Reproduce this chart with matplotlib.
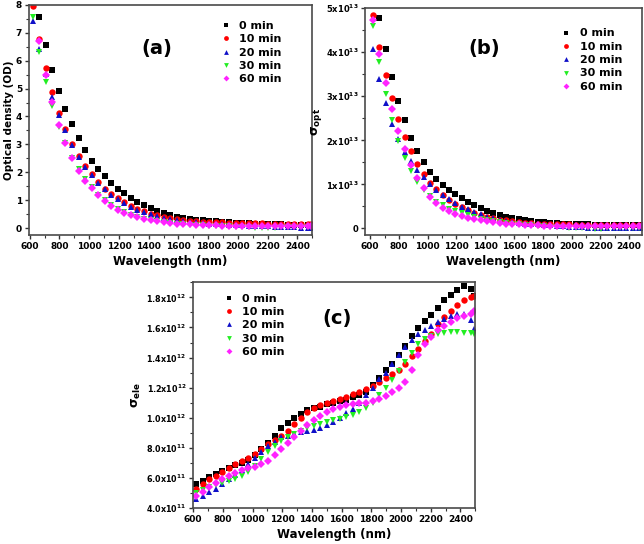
import numpy as np
import matplotlib
matplotlib.use("Agg")
import matplotlib.pyplot as plt
from matplotlib.ticker import FixedLocator, FuncFormatter, AutoMinorLocator

plt.rcParams['font.family'] = ['DejaVu Sans']
plt.rcParams['font.weight'] = 'bold'
plt.rcParams['mathtext.default'] = 'bf'

# wavelength grid (nm)
wavelength = [620, 664, 708, 752, 796, 840, 884, 928, 972, 1016, 1060, 1104, 1148, 1192,
              1236, 1280, 1324, 1368, 1412, 1456, 1500, 1544, 1588, 1632, 1676, 1720, 1764,
              1808, 1852, 1896, 1940, 1984, 2028, 2072, 2116, 2160, 2204, 2248, 2292, 2336,
              2380, 2424, 2468, 2490]

labels = ['0 min', '10 min', '20 min', '30 min', '60 min']
colors = ['black', 'red', '#1010c8', '#22ee22', '#ff22ff']
markers = ['s', 'o', '^', 'v', 'D']

# (a) optical density
od_0 = [8.7, 7.56, 6.57, 5.67, 4.92, 4.28, 3.72, 3.24, 2.80, 2.42, 2.13, 1.86, 1.62, 1.41,
        1.24, 1.07, 0.93, 0.81, 0.71, 0.61, 0.53, 0.46, 0.41, 0.37, 0.33, 0.30, 0.28, 0.26,
        0.24, 0.22, 0.20, 0.19, 0.18, 0.17, 0.16, 0.15, 0.14, 0.13, 0.13, 0.12, 0.12, 0.11,
        0.11, 0.11]
od_10 = [7.95, 6.78, 5.75, 4.88, 4.14, 3.54, 3.00, 2.58, 2.22, 1.92, 1.64, 1.40, 1.22, 1.06,
         0.92, 0.80, 0.69, 0.60, 0.52, 0.46, 0.40, 0.36, 0.32, 0.29, 0.27, 0.25, 0.23, 0.22,
         0.21, 0.20, 0.19, 0.18, 0.18, 0.17, 0.17, 0.17, 0.16, 0.16, 0.16, 0.16, 0.16, 0.15,
         0.15, 0.15]
od_20 = [7.43, 6.41, 5.52, 4.71, 4.04, 3.50, 2.97, 2.56, 2.20, 1.90, 1.62, 1.40, 1.20, 1.03,
         0.89, 0.77, 0.66, 0.57, 0.49, 0.43, 0.37, 0.32, 0.28, 0.25, 0.22, 0.20, 0.18, 0.16,
         0.15, 0.13, 0.12, 0.11, 0.10, 0.09, 0.08, 0.07, 0.06, 0.05, 0.04, 0.03, 0.02, 0.01,
         0.00, -0.01]
od_30 = [7.55, 6.31, 5.25, 4.38, 3.62, 3.05, 2.52, 2.10, 1.77, 1.47, 1.20, 1.00, 0.84, 0.70,
         0.58, 0.48, 0.40, 0.34, 0.29, 0.25, 0.21, 0.18, 0.16, 0.14, 0.12, 0.11, 0.10, 0.09,
         0.08, 0.07, 0.06, 0.05, 0.04, 0.03, 0.01, -0.01, 0.00, 0.01, 0.02, 0.03, 0.03, 0.03,
         0.03, 0.03]
od_60 = [8.4, 6.72, 5.50, 4.52, 3.70, 3.05, 2.50, 2.06, 1.70, 1.42, 1.17, 0.96, 0.80, 0.66,
         0.55, 0.46, 0.39, 0.33, 0.28, 0.24, 0.21, 0.18, 0.16, 0.14, 0.13, 0.12, 0.11, 0.10,
         0.10, 0.09, 0.09, 0.08, 0.08, 0.08, 0.08, 0.07, 0.07, 0.07, 0.07, 0.07, 0.07, 0.07,
         0.07, 0.07]

# (b) optical conductivity, units of 1e13
sopt_0 = [5.5, 4.77, 4.07, 3.44, 2.90, 2.45, 2.06, 1.75, 1.50, 1.29, 1.12, 0.98, 0.87, 0.77,
          0.68, 0.60, 0.53, 0.46, 0.40, 0.35, 0.30, 0.27, 0.24, 0.21, 0.19, 0.17, 0.15, 0.14,
          0.13, 0.12, 0.11, 0.10, 0.10, 0.09, 0.09, 0.08, 0.08, 0.08, 0.07, 0.07, 0.07, 0.07,
          0.07, 0.07]
sopt_10 = [4.85, 4.12, 3.48, 2.95, 2.49, 2.08, 1.75, 1.47, 1.24, 1.04, 0.89, 0.76, 0.65, 0.56,
           0.48, 0.41, 0.36, 0.31, 0.27, 0.23, 0.20, 0.18, 0.16, 0.14, 0.13, 0.12, 0.11, 0.10,
           0.10, 0.09, 0.09, 0.09, 0.08, 0.08, 0.08, 0.08, 0.08, 0.08, 0.08, 0.08, 0.08, 0.08,
           0.08, 0.08]
sopt_20 = [4.07, 3.39, 2.84, 2.38, 2.02, 1.74, 1.52, 1.32, 1.16, 1.01, 0.88, 0.76, 0.66, 0.57,
           0.49, 0.43, 0.37, 0.32, 0.27, 0.23, 0.20, 0.17, 0.15, 0.13, 0.11, 0.10, 0.09, 0.08,
           0.07, 0.06, 0.05, 0.04, 0.04, 0.03, 0.02, 0.02, 0.01, 0.01, 0.00, 0.00, 0.00, 0.00,
           0.00, 0.00]
sopt_30 = [4.60, 3.77, 3.05, 2.47, 1.99, 1.60, 1.30, 1.06, 0.88, 0.73, 0.61, 0.52, 0.45, 0.39,
           0.34, 0.30, 0.26, 0.22, 0.19, 0.16, 0.14, 0.12, 0.10, 0.09, 0.08, 0.07, 0.06, 0.05,
           0.04, 0.04, 0.03, 0.02, 0.02, 0.01, 0.00, -0.01, -0.01, 0.00, 0.01, 0.01, 0.02, 0.02,
           0.02, 0.02]
sopt_60 = [4.72, 3.96, 3.29, 2.72, 2.22, 1.80, 1.45, 1.15, 0.91, 0.72, 0.58, 0.47, 0.39, 0.33,
           0.28, 0.24, 0.21, 0.18, 0.16, 0.14, 0.12, 0.11, 0.10, 0.09, 0.08, 0.07, 0.07, 0.06,
           0.06, 0.06, 0.05, 0.05, 0.05, 0.05, 0.05, 0.05, 0.05, 0.05, 0.05, 0.05, 0.05, 0.05,
           0.05, 0.05]

# (c) electrical conductivity, units of 1e12
sele_0 = [0.56, 0.58, 0.605, 0.625, 0.645, 0.665, 0.685, 0.70, 0.72, 0.75, 0.79, 0.835, 0.88,
          0.93, 0.965, 1.0, 1.025, 1.05, 1.065, 1.075, 1.09, 1.10, 1.11, 1.12, 1.135, 1.15,
          1.17, 1.22, 1.265, 1.315, 1.36, 1.42, 1.48, 1.545, 1.595, 1.64, 1.68, 1.73, 1.78,
          1.815, 1.85, 1.875, 1.855, 1.81]
sele_10 = [0.53, 0.56, 0.59, 0.615, 0.64, 0.665, 0.69, 0.71, 0.735, 0.76, 0.79, 0.825, 0.855,
           0.88, 0.91, 0.96, 1.0, 1.04, 1.065, 1.085, 1.10, 1.11, 1.125, 1.14, 1.155, 1.17,
           1.19, 1.21, 1.235, 1.265, 1.29, 1.32, 1.36, 1.41, 1.46, 1.51, 1.56, 1.62, 1.67,
           1.71, 1.75, 1.78, 1.80, 1.81]
sele_20 = [0.46, 0.48, 0.505, 0.53, 0.56, 0.59, 0.62, 0.65, 0.69, 0.73, 0.77, 0.81, 0.84,
           0.87, 0.88, 0.895, 0.905, 0.91, 0.92, 0.935, 0.95, 0.97, 1.0, 1.03, 1.06, 1.10,
           1.15, 1.20, 1.26, 1.30, 1.36, 1.42, 1.47, 1.52, 1.555, 1.585, 1.61, 1.635, 1.655,
           1.675, 1.69, 1.69, 1.65, 1.59]
sele_30 = [0.50, 0.52, 0.54, 0.555, 0.565, 0.58, 0.595, 0.615, 0.64, 0.68, 0.725, 0.77, 0.81,
           0.845, 0.87, 0.895, 0.915, 0.93, 0.945, 0.96, 0.97, 0.985, 0.995, 1.005, 1.02, 1.04,
           1.065, 1.10, 1.15, 1.20, 1.25, 1.31, 1.37, 1.43, 1.49, 1.525, 1.545, 1.555, 1.565,
           1.57, 1.57, 1.565, 1.565, 1.56]
sele_60 = [0.48, 0.51, 0.54, 0.57, 0.595, 0.615, 0.635, 0.65, 0.665, 0.675, 0.69, 0.715, 0.75,
           0.79, 0.83, 0.87, 0.91, 0.95, 0.985, 1.01, 1.04, 1.06, 1.075, 1.085, 1.09, 1.095,
           1.10, 1.11, 1.125, 1.145, 1.17, 1.20, 1.24, 1.32, 1.42, 1.49, 1.54, 1.58, 1.61,
           1.635, 1.66, 1.675, 1.69, 1.71]

x = np.array(wavelength)


def style_axes(ax, ysize=6.5):
    for sp in ax.spines.values():
        sp.set_color('#4a4a4a')
        sp.set_linewidth(1.2)
    ax.xaxis.set_minor_locator(AutoMinorLocator(2))
    ax.yaxis.set_minor_locator(AutoMinorLocator(2))
    ax.tick_params(which='major', labelsize=6.5, width=1, length=3, color='#333333', pad=2)
    ax.tick_params(which='minor', width=0.8, length=2, color='#333333')
    ax.tick_params(axis='y', labelsize=ysize)
    for t in ax.get_xticklabels() + ax.get_yticklabels():
        t.set_fontweight('bold')
    ax.set_xlabel('Wavelength (nm)', fontsize=8.5, fontweight='bold', labelpad=3)


def draw(ax, series):
    for y, lab, c, m in zip(series, labels, colors, markers):
        ms = 4.0 if m == 'D' else 4.6
        ax.plot(x, y, linestyle='none', marker=m, color=c, markersize=ms,
                markeredgewidth=0, label=lab)


def add_legend(ax, anchor):
    ax.legend(loc='upper left', bbox_to_anchor=anchor, frameon=False, fontsize=8,
              handletextpad=0.7, labelspacing=0.3, borderaxespad=0, handlelength=1,
              markerscale=0.75)


fig = plt.figure(figsize=(6.44, 5.44), dpi=100)

# panel (a)
ax1 = fig.add_axes([0.045, 0.568, 0.440, 0.423])
draw(ax1, [od_0, od_10, od_20, od_30, od_60])
ax1.set_xlim(595, 2500)
ax1.set_ylim(-0.25, 8)
ax1.xaxis.set_major_locator(FixedLocator(range(600, 2401, 200)))
ax1.yaxis.set_major_locator(FixedLocator(range(0, 9)))
ax1.set_ylabel('Optical density (OD)', fontsize=7.5, fontweight='bold', labelpad=1)
style_axes(ax1)
ax1.text(0.45, 0.81, '(a)', transform=ax1.transAxes, fontsize=14, fontweight='bold',
         ha='center', va='center')
add_legend(ax1, (0.66, 0.95))

# panel (b)
ax2 = fig.add_axes([0.567, 0.568, 0.430, 0.417])
draw(ax2, [sopt_0, sopt_10, sopt_20, sopt_30, sopt_60])
ax2.set_xlim(565, 2490)
ax2.set_ylim(-0.15, 5)
ax2.xaxis.set_major_locator(FixedLocator(range(600, 2401, 200)))
ax2.yaxis.set_major_locator(FixedLocator(range(0, 6)))
ax2.yaxis.set_major_formatter(FuncFormatter(
    lambda v, p: '0' if v == 0 else '%dx10$^{13}$' % int(round(v))))
ax2.set_ylabel(r'$\sigma_{opt}$', fontsize=9, labelpad=1)
style_axes(ax2, ysize=6)
ax2.text(0.43, 0.82, '(b)', transform=ax2.transAxes, fontsize=14, fontweight='bold',
         ha='center', va='center')
add_legend(ax2, (0.69, 0.93))

# panel (c)
ax3 = fig.add_axes([0.300, 0.066, 0.438, 0.415])
draw(ax3, [sele_0, sele_10, sele_20, sele_30, sele_60])
ax3.set_xlim(600, 2500)
ax3.set_ylim(0.4, 1.9)
ax3.xaxis.set_major_locator(FixedLocator(range(600, 2401, 200)))
ax3.yaxis.set_major_locator(FixedLocator([0.4, 0.6, 0.8, 1.0, 1.2, 1.4, 1.6, 1.8]))


def fmt_c(v, p):
    if v < 0.95:
        return '%.1fx10$^{11}$' % (v * 10)
    return '%.1fx10$^{12}$' % v


ax3.yaxis.set_major_formatter(FuncFormatter(fmt_c))
ax3.set_ylabel(r'$\sigma_{ele}$', fontsize=9, labelpad=2)
style_axes(ax3, ysize=5.8)
ax3.text(0.51, 0.84, '(c)', transform=ax3.transAxes, fontsize=14, fontweight='bold',
         ha='center', va='center')
add_legend(ax3, (0.09, 0.97))

fig.savefig('out.png', dpi=100)
